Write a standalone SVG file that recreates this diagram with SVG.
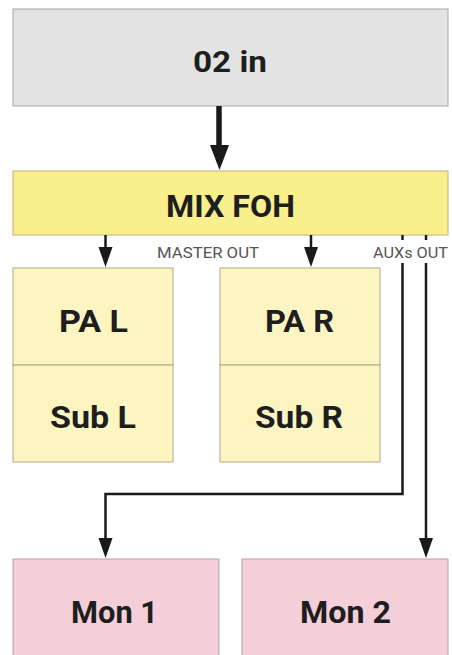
<svg xmlns="http://www.w3.org/2000/svg" width="452" height="655" viewBox="0 0 452 655">
<defs>
<style>
.lbl{font-family:Roboto,"DejaVu Sans",sans-serif;font-weight:bold;fill:#1e1e1e;text-anchor:middle}
.big{font-size:31px}
.small{font-family:Roboto,"DejaVu Sans",sans-serif;font-size:15px;fill:#555;text-anchor:middle}
.wire{fill:none;stroke:#1a1a1a;stroke-width:2.5}
.head{fill:#1a1a1a}
</style>
</defs>
<rect width="452" height="655" fill="#ffffff"/>
<g id="node-02in">
<rect x="13" y="9" width="435" height="97" fill="#e3e3e3" stroke="#a8a8a8" stroke-width="1"/>
<text class="lbl" x="230" y="72" font-size="29" textLength="74" lengthAdjust="spacingAndGlyphs">02 in</text>
</g>
<g id="node-mixfoh">
<rect x="13" y="171" width="435" height="64" fill="#f9ef8d" stroke="#bdb37a" stroke-width="1"/>
<text class="lbl big" x="230.5" y="217" textLength="129" lengthAdjust="spacingAndGlyphs">MIX FOH</text>
</g>
<g id="node-pal">
<rect x="13" y="268" width="160" height="97" fill="#fcf5c1" stroke="#b0aa88" stroke-width="1"/>
<text class="lbl big" x="93.5" y="332" textLength="69" lengthAdjust="spacingAndGlyphs">PA L</text>
</g>
<g id="node-subl">
<rect x="13" y="365" width="160" height="97" fill="#fcf5c1" stroke="#b0aa88" stroke-width="1"/>
<text class="lbl big" x="93" y="428" textLength="86" lengthAdjust="spacingAndGlyphs">Sub L</text>
</g>
<g id="node-par">
<rect x="220" y="268" width="160" height="97" fill="#fcf5c1" stroke="#b0aa88" stroke-width="1"/>
<text class="lbl big" x="299.5" y="332" textLength="69" lengthAdjust="spacingAndGlyphs">PA R</text>
</g>
<g id="node-subr">
<rect x="220" y="365" width="160" height="97" fill="#fcf5c1" stroke="#b0aa88" stroke-width="1"/>
<text class="lbl big" x="299" y="428" textLength="88" lengthAdjust="spacingAndGlyphs">Sub R</text>
</g>
<g id="node-mon1">
<rect x="13" y="559" width="206" height="110" fill="#f4cfd9" stroke="#b8a2a8" stroke-width="1"/>
<text class="lbl big" x="114.5" y="623" textLength="87" lengthAdjust="spacingAndGlyphs">Mon 1</text>
</g>
<g id="node-mon2">
<rect x="242" y="559" width="206" height="110" fill="#f4cfd9" stroke="#b8a2a8" stroke-width="1"/>
<text class="lbl big" x="345.5" y="623" textLength="91" lengthAdjust="spacingAndGlyphs">Mon 2</text>
</g>
<g id="labels">
<text class="small" x="208" y="257.5" textLength="102" lengthAdjust="spacingAndGlyphs">MASTER OUT</text>
<text class="small" x="410.5" y="257.5" textLength="75" lengthAdjust="spacingAndGlyphs">AUXs OUT</text>
</g>
<g id="connectors">
<line x1="219" y1="106" x2="219" y2="148" stroke="#1a1a1a" stroke-width="5.5"/>
<polygon class="head" points="210,145 229,145 219.5,170"/>
<line class="wire" x1="105.5" y1="235" x2="105.5" y2="250"/>
<polygon class="head" points="98.5,247 112.5,247 105.5,267"/>
<line class="wire" x1="311" y1="235" x2="311" y2="250"/>
<polygon class="head" points="304,247 318,247 311,267"/>
<line class="wire" x1="402.5" y1="235" x2="402.5" y2="240"/>
<line class="wire" x1="426" y1="235" x2="426" y2="240"/>
<polyline class="wire" points="402.5,263 402.5,494 105.5,494 105.5,541"/>
<polygon class="head" points="98.5,538 112.5,538 105.5,558"/>
<line class="wire" x1="426" y1="263" x2="426" y2="541"/>
<polygon class="head" points="419,538 433,538 426,558"/>
</g>
</svg>
